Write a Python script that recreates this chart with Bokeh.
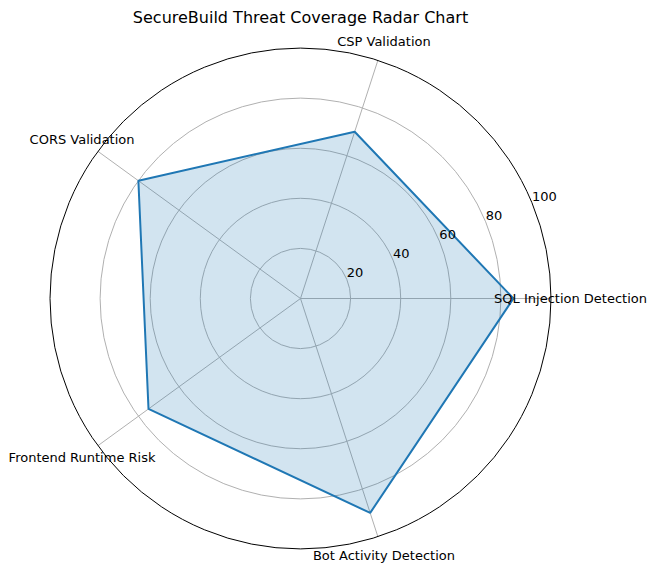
import numpy as np
from bokeh.plotting import figure
from bokeh.embed import file_html
from bokeh.resources import INLINE
from bokeh.core.properties import value

# ---- data ----
categories = ["SQL Injection Detection", "CSP Validation", "CORS Validation",
              "Frontend Runtime Risk", "Bot Activity Detection"]
scores = [85, 70, 80, 75, 90]
radial_ticks = [20, 40, 60, 80, 100]
radial_tick_labels = ["20", "40", "60", "80", "100"]
title = "SecureBuild Threat Coverage Radar Chart"

# ---- layout ----
W, H = 649, 564
cx_px, cy_px = 300, 298      # centre of polar area in figure pixels
scale = 2.505                # pixels per unit
rmax = 100

p = figure(width=W, height=H, output_backend="svg", toolbar_location=None,
           x_range=(-cx_px / scale, (W - cx_px) / scale),
           y_range=(-(H - cy_px) / scale, cy_px / scale),
           min_border=0)
p.axis.visible = False
p.grid.visible = False
p.outline_line_color = None
p.background_fill_color = "white"

n = len(categories)
angles = np.arange(n) * 2 * np.pi / n

grid_col = "#b0b0b0"
# grid circles
for r in radial_ticks[:-1]:
    p.circle(x=0, y=0, radius=r, fill_color=None, line_color=grid_col, line_width=1)
# spokes
for a in angles:
    p.line([0, rmax * np.cos(a)], [0, rmax * np.sin(a)], line_color=grid_col, line_width=1)

# data polygon
vals = np.array(scores, dtype=float)
xs = vals * np.cos(angles)
ys = vals * np.sin(angles)
p.patch(list(xs), list(ys), fill_color="#1f77b4", fill_alpha=0.2, line_color=None)
p.line(list(xs) + [xs[0]], list(ys) + [ys[0]], line_color="#1f77b4", line_width=2)

# outer spine
p.circle(x=0, y=0, radius=rmax, fill_color=None, line_color="black", line_width=1)

font = value("DejaVu Sans")
# radial tick labels at 22.5 deg
ra = np.deg2rad(22.5)
p.text(x=[r * np.cos(ra) for r in radial_ticks], y=[r * np.sin(ra) for r in radial_ticks],
       text=radial_tick_labels, text_font=font, text_font_size="13px",
       text_align="left", text_baseline="bottom", text_color="#000000", y_offset=-2)

# category labels
lr = 107.8
p.text(x=list(lr * np.cos(angles)), y=list(lr * np.sin(angles)), text=categories,
       text_font=font, text_font_size="13px", text_align="center",
       text_baseline="middle", text_color="#000000")

# title
p.text(x=[0], y=[(cy_px - 16.5) / scale], text=[title], text_font=font,
       text_font_size="16px", text_align="center", text_baseline="middle",
       text_color="#000000")

open("out.html", "w").write(file_html(p, INLINE))
